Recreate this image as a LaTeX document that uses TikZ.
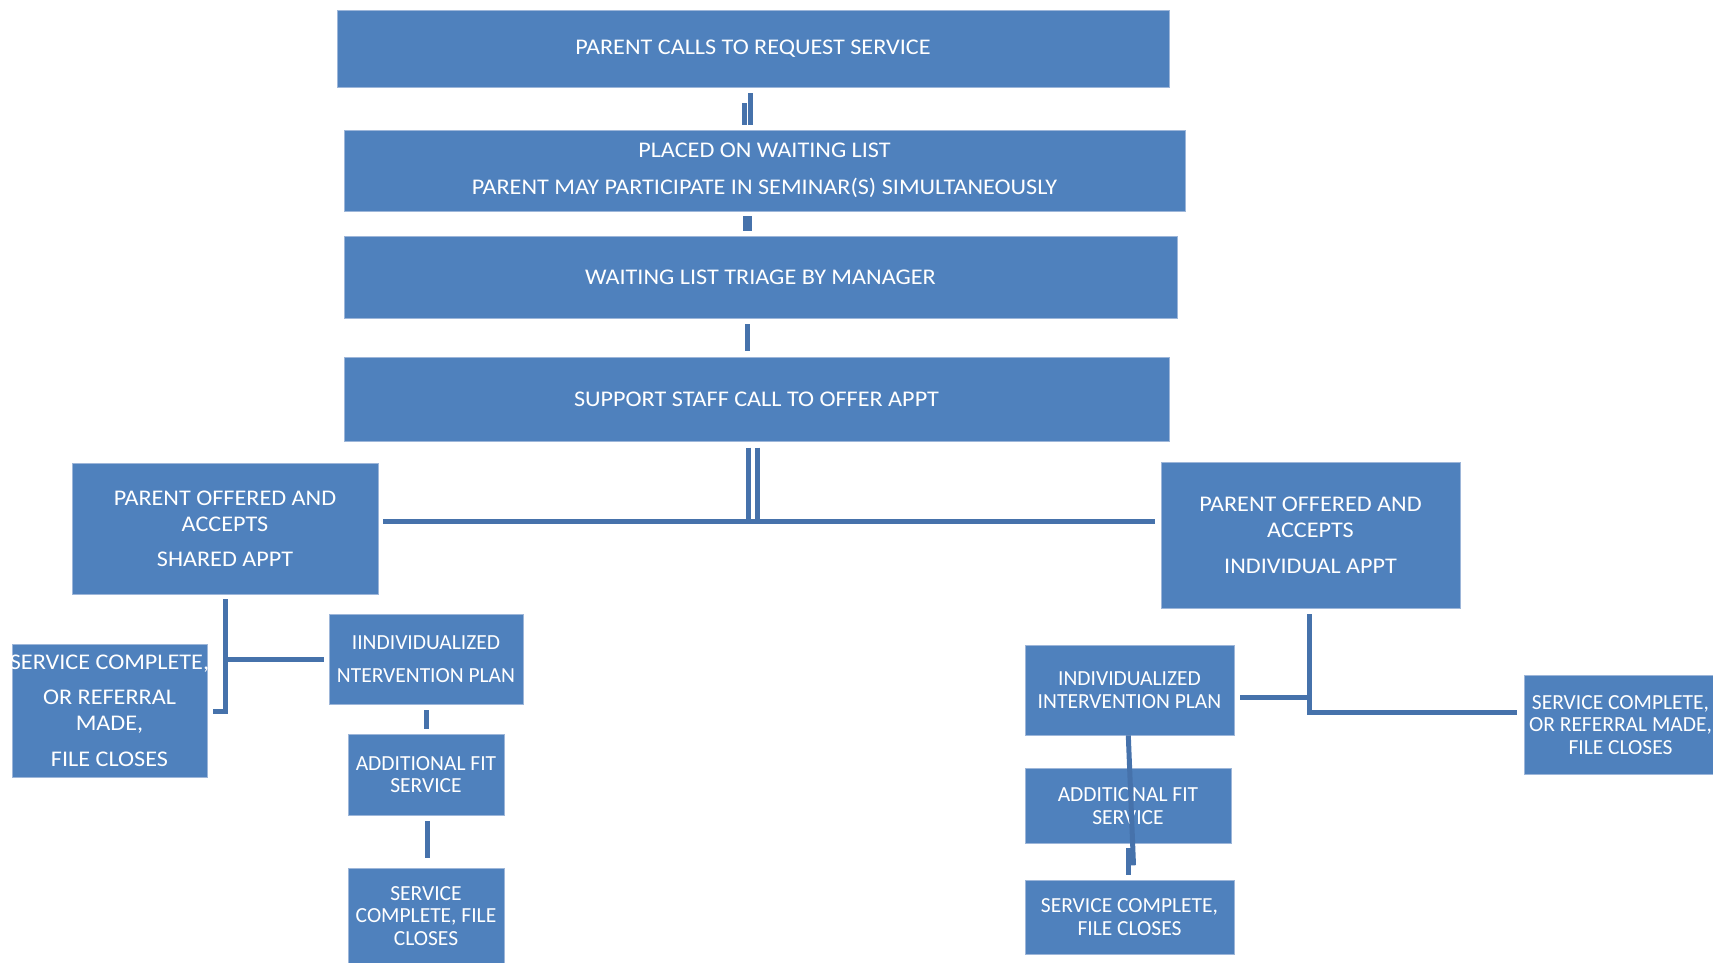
\documentclass[tikz,border=0pt]{standalone}
\usepackage{fontspec}
\setmainfont{Carlito}
\newfontfamily\widefont[FakeStretch=1.08]{Carlito}
\usetikzlibrary{calc}
\definecolor{boxblue}{HTML}{4F81BD}
\definecolor{boxedge}{HTML}{9DB6D9}
\definecolor{linkblue}{HTML}{4672AB}
\begin{document}
\begin{tikzpicture}[x=1pt,y=-1pt,
  box/.style={fill=boxblue, draw=boxedge, line width=0.8pt, text=white, align=center, inner sep=0pt},
  big/.style={font=\widefont\fontsize{22.4}{26}\selectfont},
  small/.style={font=\fontsize{21.5}{22.5}\selectfont},
  conn/.style={draw=linkblue, line width=5pt}]
\useasboundingbox (0,0) rectangle (1713,963);

% main column
\node[box,big,minimum width=832pt,minimum height=77pt] (n1) at (753,48.5) {PARENT CALLS TO REQUEST SERVICE};
\node[box,big,minimum width=841pt,minimum height=81pt] (n2) at (764.5,170.5) {PLACED ON WAITING LIST\\[11.5pt]PARENT MAY PARTICIPATE IN SEMINAR(S) SIMULTANEOUSLY};
\node[box,big,minimum width=833pt,minimum height=82pt] (n3) at (760.5,277) {WAITING LIST TRIAGE BY MANAGER};
\node[box,big,minimum width=825pt,minimum height=84pt] (n4) at (756.5,399) {SUPPORT STAFF CALL TO OFFER APPT};

% branches
\node[box,big,minimum width=306pt,minimum height=131pt] (shared) at (225,528.5) {PARENT OFFERED AND\\ACCEPTS\\[9pt]SHARED APPT};
\node[box,big,minimum width=299pt,minimum height=146pt] (indiv) at (1310.5,535) {PARENT OFFERED AND\\ACCEPTS\\[10pt]INDIVIDUAL APPT};

% left side
\node[box,big,minimum width=195pt,minimum height=133pt] (scL) at (109.5,710.5) {\makebox[185pt]{SERVICE COMPLETE,}\\[9pt]OR REFERRAL\\MADE,\\[10pt]FILE CLOSES};
\node[box,small,minimum width=194pt,minimum height=90pt] (iipL) at (426,659) {IINDIVIDUALIZED\\[10.5pt]NTERVENTION PLAN};
\node[box,small,minimum width=156pt,minimum height=81pt] (afsL) at (426,774.5) {ADDITIONAL FIT\\SERVICE};
\node[box,small,minimum width=156pt,minimum height=96pt] (scfL) at (426,916) {SERVICE\\COMPLETE, FILE\\CLOSES};

% right side
\node[box,small,minimum width=209pt,minimum height=90pt] (iipR) at (1129.5,690) {INDIVIDUALIZED\\INTERVENTION PLAN};
\node[box,small,minimum width=206pt,minimum height=75pt] (afsR) at (1128,806) {ADDITIONAL FIT\\SERVICE};
\node[box,small,minimum width=209pt,minimum height=74pt] (scfR) at (1129.5,917) {SERVICE COMPLETE,\\FILE CLOSES};
\node[box,small,minimum width=193pt,minimum height=99.5pt] (scR) at (1620.5,725) {SERVICE COMPLETE,\\OR REFERRAL MADE,\\FILE CLOSES};

% connectors of the main column
\draw[conn] ($(n1.south)+(-9,15.7)$) -- ($(n1.south|-n2.north)+(-9,-5)$);
\draw[conn] ($(n1.south)+(-3,5.7)$) -- ($(n1.south|-n2.north)+(-3,-5)$);
\draw[conn,line width=9pt] ($(n1.south|-n2.south)+(-5.5,5)$) -- ($(n1.south|-n3.north)+(-5.5,-5)$);
\draw[conn] ($(n1.south|-n3.south)+(-5.5,6)$) -- ($(n1.south|-n4.north)+(-5.5,-6)$);

\coordinate (bus) at (753,521.7);
\draw[conn] ($(n4.south)+(-8,6.3)$) -- ($(n4.south|-bus)+(-8,0)$);
\draw[conn] ($(n4.south)+(0.7,6.3)$) -- ($(n4.south|-bus)+(0.7,0)$);
\draw[conn] ($(shared.east|-bus)+(5,0)$) -- ($(indiv.west|-bus)+(-6,0)$);

% left branch connectors
\coordinate (hL) at (225,711.5);
\draw[conn] ($(shared.south)+(0,5)$) -- (hL) -- ($(scL.east|-hL)+(6,0)$);
\draw[conn] (shared.south|-iipL.west) -- ($(iipL.west)+(-5,0)$);
\draw[conn] ($(iipL.south)+(0.5,6)$) -- ($(afsL.north)+(0.5,-5)$);
\draw[conn] ($(afsL.south)+(1.5,6)$) -- ($(afsL.south|-scfL.north)+(1.5,-10)$);

% right branch connectors
\coordinate (vR) at (1309,712.5);
\coordinate (jR) at (1309,697.5);
\draw[conn] ($(indiv.south)+(-1.5,6)$) -- (vR) -- ($(scR.west|-vR)+(-6.5,0)$);
\draw[conn] (jR) -- ($(iipR.east|-jR)+(6,0)$);
\draw[conn] ($(iipR.south)+(-1.2,0)$) -- ($(scfR.north)+(4,-14.3)$);
\draw[conn] ($(scfR.north)+(-1.2,-32)$) -- ($(scfR.north)+(-1.2,-5)$);
\end{tikzpicture}
\end{document}
